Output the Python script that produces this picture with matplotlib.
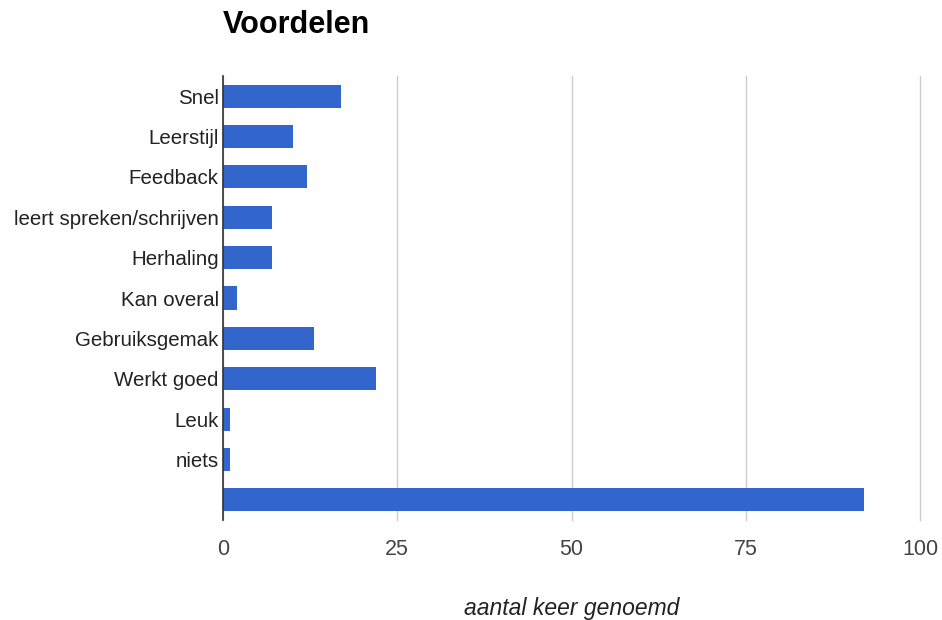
import matplotlib.pyplot as plt
import numpy as np

plt.rcParams['font.family'] = ['Liberation Sans', 'DejaVu Sans']

# Data
categories = ["Snel", "Leerstijl", "Feedback", "leert spreken/schrijven", "Herhaling",
              "Kan overal", "Gebruiksgemak", "Werkt goed", "Leuk", "niets", ""]
counts = [17, 10, 12, 7, 7, 2, 13, 22, 1, 1, 92]
xticks = [0, 25, 50, 75, 100]

fig = plt.figure(figsize=(9.42, 6.2), dpi=100)
ax = fig.add_axes([0.2367, 0.1613, 0.74, 0.7161])

y = np.arange(len(categories))
ax.barh(y, counts, height=0.57, color='#3366CC', zorder=3)

ax.set_xlim(0, 100)
ax.set_ylim(len(categories) - 0.5, -0.5)
ax.set_yticks(y)
ax.set_yticklabels(categories, fontsize=14.8, color='#222222')
ax.set_xticks(xticks)
ax.set_xticklabels([str(t) for t in xticks], fontsize=15.5, color='#444444')
ax.tick_params(axis='both', length=0)
ax.tick_params(axis='x', pad=14)
ax.tick_params(axis='y', pad=3)

for s in ['top', 'right', 'bottom']:
    ax.spines[s].set_visible(False)
ax.spines['left'].set_color('#333333')
ax.spines['left'].set_linewidth(1.2)
ax.spines['left'].set_zorder(4)

ax.grid(axis='x', color='#cccccc', linewidth=1, zorder=0)
ax.grid(axis='y', visible=False)
for gl in ax.get_xgridlines():
    gl.set_clip_on(False)

ax.set_xlabel("aantal keer genoemd", fontsize=16.5, style='italic', color='#222222', labelpad=26)
fig.text(0.2367, 0.96, "Voordelen", fontsize=22, fontweight='bold', ha='left', va='center')

fig.savefig("out.png", dpi=100)
